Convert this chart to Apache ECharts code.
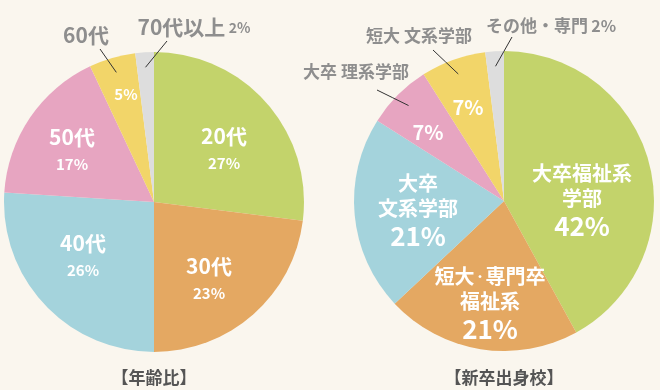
<!DOCTYPE html>
<html><head><meta charset="utf-8">
<script src="https://cdn.jsdelivr.net/npm/echarts@6/dist/echarts.min.js"></script>
<style>html,body{margin:0;padding:0;background:#faf6ee}#c{width:660px;height:390px}</style>
</head><body><div id="c"></div>
<script>
// ---- data ----
const ageCategories = ['20代', '30代', '40代', '50代', '60代', '70代以上'];
const ageValues = [27, 23, 26, 17, 5, 2];
const schoolCategories = ['大卒福祉系\n学部', '短大・専門卒\n福祉系', '大卒\n文系学部', '大卒 理系学部', '短大 文系学部', 'その他・専門'];
const schoolValues = [42, 21, 21, 7, 7, 2];
const chartTitles = ['【年齢比】', '【新卒出身校】'];

// ---- styles / layout ----
const colors = ['#c3d36b', '#e4a862', '#a4d3dc', '#e7a5c1', '#f2d569', '#dddddd'];
const FONT = '"Noto Sans CJK JP", "Noto Sans CJK SC", sans-serif';
const R = 150;
const pies = [
  {
    center: [154, 202], cats: ageCategories, vals: ageValues,
    inner: ['both', 'both', 'both', 'both', 'pct', null],
    outer: [null, null, null, null, 'name', 'both'],
    innerPos: [[70, -53], [55, 77], [-71, 54], [-82, -52], [-28, -108], null],
    outerPos: [null, null, null, null, [-68, -167], [40, -175]],
    lineEnd: [null, null, null, null, [-54, -153], [13, -161]],
    innerRich: {
      n: { color: '#fff', fontSize: 21, fontWeight: 'bold', lineHeight: 28, fontFamily: FONT },
      p: { color: '#fff', fontSize: 15, fontWeight: 'bold', lineHeight: 26, fontFamily: FONT }
    },
    outerRich: {
      n: { color: '#8e8e8e', fontSize: 21, fontWeight: 'bold', fontFamily: FONT, lineHeight: 26 },
      p: { color: '#8e8e8e', fontSize: 14, fontWeight: 'bold', fontFamily: FONT, lineHeight: 26, padding: [2, 0, 0, 0] }
    }
  },
  {
    center: [504, 201], cats: schoolCategories, vals: schoolValues,
    inner: ['both', 'both', 'both', 'pct', 'pct', null],
    outer: [null, null, null, 'name', 'name', 'both'],
    innerPos: [[78, 0], [-14, 103], [-86, 10], [-76, -69], [-36, -94], null],
    outerPos: [null, null, null, [-148, -129], [-85, -165], [47, -175]],
    lineEnd: [null, null, null, [-127, -111], [-71, -151], [8, -164]],
    innerRich: {
      n: { color: '#fff', fontSize: 20, fontWeight: 'bold', lineHeight: 25, fontFamily: FONT },
      d: { color: '#fff', fontSize: 11, fontWeight: 'bold', lineHeight: 25, fontFamily: FONT },
      p: { color: '#fff', fontSize: 26, fontWeight: 'bold', lineHeight: 30, fontFamily: FONT },
      s: { color: '#fff', fontSize: 20, fontWeight: 'bold', lineHeight: 26, fontFamily: FONT }
    },
    outerRich: {
      n: { color: '#8e8e8e', fontSize: 17, fontWeight: 'bold', fontFamily: FONT, lineHeight: 22 },
      p: { color: '#8e8e8e', fontSize: 16, fontWeight: 'bold', fontFamily: FONT, lineHeight: 22 }
    }
  }
];

function midAngle(vals, i) {
  const total = vals.reduce((a, b) => a + b, 0);
  let before = 0;
  for (let k = 0; k < i; k++) before += vals[k];
  return (90 - 360 * (before + vals[i] / 2) / total) * Math.PI / 180;
}

function richName(name) {
  // narrow middle dot, as in the reference typography
  return name.split('\n').map(line => '{n|' + line.split('・').join('}{d|・}{n|') + '}').join('\n');
}

const series = [];
pies.forEach((cfg, k) => {
  const big = k === 1;
  series.push({
    type: 'pie', center: cfg.center, radius: R, startAngle: 90, clockwise: true,
    avoidLabelOverlap: false, silent: true, animation: false,
    itemStyle: { borderWidth: 0 },
    label: {
      position: 'inside',
      formatter: p => {
        const mode = cfg.inner[p.dataIndex];
        if (mode === 'pct') return (big ? '{s|' : '{p|') + p.value + '%}';
        return richName(p.name) + '\n{p|' + p.value + '%}';
      },
      rich: cfg.innerRich
    },
    labelLine: { show: false },
    labelLayout: p => {
      const pos = cfg.innerPos[p.dataIndex];
      if (!pos) return {};
      return { x: cfg.center[0] + pos[0], y: cfg.center[1] + pos[1], align: 'center', verticalAlign: 'middle' };
    },
    data: cfg.cats.map((c, i) => ({
      name: c, value: cfg.vals[i],
      itemStyle: { color: colors[i] },
      label: { show: cfg.inner[i] !== null }
    }))
  });
  series.push({
    type: 'pie', center: cfg.center, radius: R, startAngle: 90, clockwise: true,
    avoidLabelOverlap: false, silent: true, animation: false, z: 3,
    itemStyle: { color: 'rgba(0,0,0,0)', borderWidth: 0 },
    label: {
      position: 'outside',
      formatter: p => {
        const mode = cfg.outer[p.dataIndex];
        if (mode === 'name') return '{n|' + p.name + '}';
        return '{n|' + p.name + '} {p|' + p.value + '%}';
      },
      rich: cfg.outerRich
    },
    labelLine: { show: true, length: 5, length2: 5, smooth: false, lineStyle: { color: '#333', width: 1 } },
    labelLayout: p => {
      const i = p.dataIndex;
      const pos = cfg.outerPos[i];
      if (!pos) return {};
      const a = midAngle(cfg.vals, i);
      const sr = R * 0.9;
      const sx = cfg.center[0] + sr * Math.cos(a), sy = cfg.center[1] - sr * Math.sin(a);
      const ex = cfg.center[0] + cfg.lineEnd[i][0], ey = cfg.center[1] + cfg.lineEnd[i][1];
      return {
        x: cfg.center[0] + pos[0], y: cfg.center[1] + pos[1], align: 'center', verticalAlign: 'middle',
        labelLinePoints: [[sx, sy], [(sx + ex) / 2, (sy + ey) / 2], [ex, ey]]
      };
    },
    data: cfg.cats.map((c, i) => ({
      name: c, value: cfg.vals[i],
      label: { show: cfg.outer[i] !== null },
      labelLine: { show: cfg.outer[i] !== null }
    }))
  });
});

const chart = echarts.init(document.getElementById('c'), null, { renderer: 'canvas' });
chart.setOption({
  backgroundColor: '#faf6ee',
  animation: false,
  series: series,
  graphic: chartTitles.map((t, k) => ({
    type: 'text', x: pies[k].center[0], y: 378,
    style: { text: t, fill: '#555', font: 'bold 17px ' + FONT, textAlign: 'center', textVerticalAlign: 'middle' }
  }))
});
</script>
</body></html>
